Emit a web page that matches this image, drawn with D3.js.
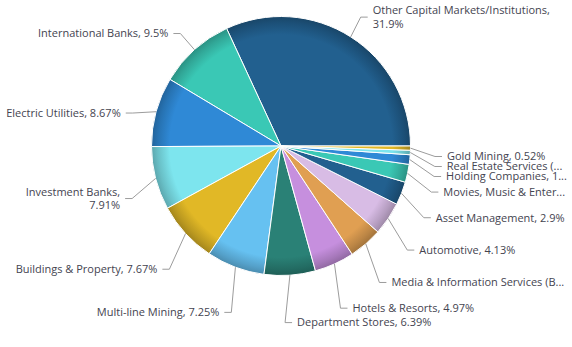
<!DOCTYPE html>
<html>
<head>
<meta charset="utf-8">
<script src="https://cdn.jsdelivr.net/npm/d3@7"></script>
<style>
  html, body { margin: 0; padding: 0; background: #fff; }
  svg { display: block; font-family: "Open Sans", sans-serif; }
</style>
</head>
<body>
<svg id="chart" width="572" height="347"></svg>
<script>
// Sector shares, largest first
const categories = [
  "Other Capital Markets/Institutions",
  "International Banks",
  "Electric Utilities",
  "Investment Banks",
  "Buildings & Property",
  "Multi-line Mining",
  "Department Stores",
  "Hotels & Resorts",
  "Media & Information Services (Broadcasting)",
  "Automotive",
  "Asset Management",
  "Movies, Music & Entertainment",
  "Holding Companies",
  "Real Estate Services (Brokerage)",
  "Gold Mining"
];
const shares = [31.9, 9.5, 8.67, 7.91, 7.67, 7.25, 6.39, 4.97, 4.2, 4.13, 2.9, 2.24, 1.19, 0.56, 0.52];
const palette = ["#22608f", "#3ac8b5", "#2f89d6", "#7de5ee", "#e1b826",
                 "#66c1f1", "#2a8176", "#c68fde", "#e09f52", "#d8bce5"];

const W = 572, H = 347;
const cx = 281, cy = 146, R = 129.5;

const svg = d3.select("#chart");
const defs = svg.append("defs");

const data = categories.map((name, i) => ({ name, value: shares[i], i }));

// Slices run counter-clockwise from 3 o'clock
const pie = d3.pie().value(d => d.value).sort(null)
  .startAngle(Math.PI / 2).endAngle(Math.PI / 2 - 2 * Math.PI);
const arcs = pie(data);
const arc = d3.arc().innerRadius(0).outerRadius(R);

// Rim shading: each slice darkens toward the outer edge
// (gradient space is the translated pie group, so it is centred on 0,0)
arcs.forEach((a, k) => {
  const base = d3.color(palette[k % palette.length]);
  const g = defs.append("radialGradient").attr("id", "g" + k)
    .attr("gradientUnits", "userSpaceOnUse")
    .attr("cx", 0).attr("cy", 0).attr("r", R);
  g.append("stop").attr("offset", "0").attr("stop-color", base);
  g.append("stop").attr("offset", "0.86").attr("stop-color", base);
  g.append("stop").attr("offset", "0.95").attr("stop-color", base.darker(0.5));
  g.append("stop").attr("offset", "1").attr("stop-color", base.darker(0.9));
});

const pieG = svg.append("g").attr("transform", `translate(${cx},${cy})`);
pieG.selectAll("path").data(arcs).enter().append("path")
  .attr("d", arc)
  .attr("fill", (d, k) => `url(#g${k})`)
  .attr("stroke", "#ffffff")
  .attr("stroke-width", 1)
  .attr("stroke-linejoin", "round");

// ---- data labels ----
const labelG = svg.append("g");
const fontSize = 11;
const measure = labelG.append("text").attr("font-size", fontSize).attr("visibility", "hidden");
function textWidth(s) { measure.text(s); return measure.node().getComputedTextLength(); }

const Rx = 161, Ry = 166, cyL = 157;
const labels = arcs.map((a, k) => {
  const mid = (a.startAngle + a.endAngle) / 2;
  const sx = Math.sin(mid), sy = -Math.cos(mid);
  const side = sx >= 0 ? 1 : -1;
  return {
    k, mid, side,
    edge: [cx + R * sx, cy + R * sy],
    x: cx + side * (Rx * Math.abs(sx) + 5),
    y0: cyL + Ry * sy,
    text: `${a.data.name}, ${a.data.value}%`
  };
});

// Fit each label: one line, wrapped, or cut with an ellipsis
labels.forEach(L => {
  const avail = L.side > 0 ? 568.6 - L.x : L.x - 2;
  L.lines = [L.text];
  if (textWidth(L.text) <= avail) return;
  const same = labels.filter(o => o !== L && o.side === L.side);
  const gap = d3.min(same, o => Math.abs(o.y0 - L.y0));
  if (gap > 40) {
    const words = L.text.split(" ");
    const lines = [];
    let cur = "";
    words.forEach(w => {
      const t = cur ? cur + " " + w : w;
      if (textWidth(t) <= avail || !cur) cur = t;
      else { lines.push(cur); cur = w; }
    });
    lines.push(cur);
    L.lines = lines;
  } else {
    let s = L.text;
    while (s.length > 1 && textWidth(s + "...") > avail) s = s.slice(0, -1);
    L.lines = [s + "..."];
  }
});

// Spread overlapping labels on each side
const lineStep = 13.5, slot = 10;
[1, -1].forEach(side => {
  const items = labels.filter(L => L.side === side).sort((a, b) => a.y0 - b.y0);
  items.forEach(L => { L.h = slot + (L.lines.length - 1) * lineStep; });
  let groups = items.map(L => ({ items: [L] }));
  const place = g => {
    let off = 0;
    g.items.forEach(L => { L.off = off + L.h / 2; off += L.h; });
    g.size = off;
    g.top = d3.mean(g.items, L => L.y0 - L.off);
  };
  groups.forEach(place);
  let merged = true;
  while (merged) {
    merged = false;
    for (let i = 1; i < groups.length; i++) {
      const p = groups[i - 1], q = groups[i];
      if (q.top < p.top + p.size) {
        p.items = p.items.concat(q.items);
        place(p);
        groups.splice(i, 1);
        merged = true;
        break;
      }
    }
  }
  groups.forEach(g => g.items.forEach(L => { L.y = g.top + L.off; }));
});

// Connectors
const line = d3.line();
labelG.selectAll("path.conn").data(labels).enter().append("path")
  .attr("class", "conn")
  .attr("d", L => line([L.edge, [L.x - L.side * 12, L.y], [L.x - L.side * 5, L.y]]))
  .attr("fill", "none")
  .attr("stroke", "#9c9c9c")
  .attr("stroke-width", 1);

// Label text
labels.forEach(L => {
  const n = L.lines.length;
  const t = labelG.append("text")
    .attr("font-size", fontSize)
    .attr("fill", "#444450")
    .attr("text-anchor", L.side > 0 ? "start" : "end");
  L.lines.forEach((s, j) => {
    t.append("tspan")
      .attr("x", L.x)
      .attr("y", L.y + (j - (n - 1) / 2) * lineStep)
      .attr("dy", "0.35em")
      .text(s);
  });
});
measure.remove();
</script>
</body>
</html>
